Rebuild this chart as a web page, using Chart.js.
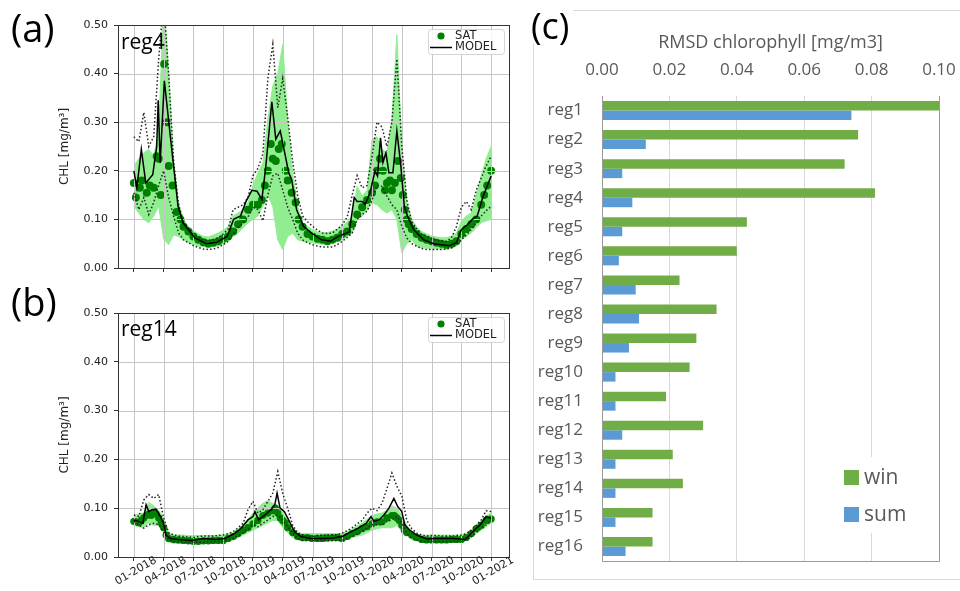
<!DOCTYPE html>
<html>
<head>
<meta charset="utf-8">
<script src="https://cdn.jsdelivr.net/npm/chart.js@4/dist/chart.umd.min.js"></script>
<style>
  body { margin: 0; background: #fff; width: 960px; height: 591px; overflow: hidden; position: relative; }
  canvas { position: absolute; }
  .lab { position: absolute; font-family: "Open Sans", sans-serif; line-height: 1; color: #000; white-space: nowrap; }
  #boxC { position: absolute; left: 533px; top: 10px; width: 440px; height: 568px; border: 1px solid #d9d9d9; }
</style>
</head>
<body>
<div id="boxC"></div>
<canvas id="chartA" style="left:0;top:0" width="530" height="290"></canvas>
<canvas id="chartB" style="left:0;top:290px" width="530" height="301"></canvas>
<canvas id="chartC" style="left:533px;top:10px" width="427" height="570"></canvas>
<div class="lab" style="left:11px;top:8px;font-size:38px">(a)</div>
<div class="lab" style="left:11px;top:282px;font-size:38px">(b)</div>
<div class="lab" style="left:531px;top:8px;font-size:36px;background:#fff;padding-right:4px">(c)</div>
<div class="lab" style="left:121px;top:31px;font-size:21px">reg4</div>
<div class="lab" style="left:121px;top:318px;font-size:21px">reg14</div>
<script>
// time axis in months since 01-2018
var tickMonths = [0, 3, 6, 9, 12, 15, 18, 21, 24, 27, 30, 33, 36];
var tickLabels = ['01-2018', '04-2018', '07-2018', '10-2018', '01-2019', '04-2019', '07-2019',
  '10-2019', '01-2020', '04-2020', '07-2020', '10-2020', '01-2021'];

// half-month grid used by the ensemble band and the dotted envelopes
var gridMonths = [0, 0.5, 1, 1.5, 2, 2.5, 3, 3.5, 4, 4.5, 5, 5.5, 6, 6.5, 7, 7.5, 8, 8.5, 9, 9.5, 10, 10.5, 11, 11.5, 12,
  12.5, 13, 13.5, 14, 14.5, 15, 15.5, 16, 16.5, 17, 17.5, 18, 18.5, 19, 19.5, 20, 20.5, 21, 21.5, 22, 22.5, 23, 23.5, 24,
  24.5, 25, 25.5, 26, 26.5, 27, 27.5, 28, 28.5, 29, 29.5, 30, 30.5, 31, 31.5, 32, 32.5, 33, 33.5, 34, 34.5, 35, 35.5, 36];

// ---- reg4 ----
var reg4BandHi = [0.21, 0.225, 0.237, 0.244, 0.23, 0.28, 0.55, 0.41, 0.22, 0.134, 0.1, 0.085, 0.076, 0.07, 0.065, 0.064, 0.068, 0.072, 0.078, 0.085, 0.107, 0.113, 0.12, 0.135, 0.17,
  0.196, 0.216, 0.306, 0.375, 0.40, 0.46, 0.306, 0.196, 0.127, 0.093, 0.085, 0.079, 0.075, 0.072, 0.073, 0.076, 0.08, 0.086, 0.095, 0.107, 0.168, 0.148, 0.16, 0.265,
  0.27, 0.244, 0.237, 0.306, 0.48, 0.25, 0.135, 0.1, 0.085, 0.075, 0.07, 0.066, 0.064, 0.062, 0.062, 0.066, 0.072, 0.096, 0.107, 0.113, 0.15, 0.19, 0.225, 0.25];
var reg4BandLo = [0.127, 0.113, 0.1, 0.093, 0.107, 0.127, 0.06, 0.048, 0.068, 0.065, 0.058, 0.052, 0.048, 0.045, 0.044, 0.043, 0.044, 0.045, 0.05, 0.055, 0.065, 0.072, 0.082, 0.093, 0.1,
  0.107, 0.127, 0.148, 0.127, 0.058, 0.038, 0.065, 0.072, 0.058, 0.055, 0.053, 0.052, 0.05, 0.049, 0.05, 0.052, 0.055, 0.058, 0.065, 0.072, 0.1, 0.107, 0.12, 0.134,
  0.13, 0.12, 0.113, 0.12, 0.1, 0.031, 0.05, 0.058, 0.045, 0.042, 0.041, 0.04, 0.039, 0.039, 0.039, 0.041, 0.045, 0.058, 0.065, 0.072, 0.083, 0.093, 0.097, 0.1];
var reg4DotHi = [0.27, 0.26, 0.32, 0.25, 0.27, 0.43, 0.55, 0.40, 0.22, 0.13, 0.095, 0.082, 0.07, 0.063, 0.058, 0.057, 0.058, 0.062, 0.07, 0.08, 0.12, 0.125, 0.13, 0.145, 0.19,
  0.205, 0.235, 0.39, 0.46, 0.33, 0.39, 0.31, 0.22, 0.15, 0.107, 0.095, 0.086, 0.078, 0.072, 0.071, 0.072, 0.08, 0.089, 0.105, 0.15, 0.19, 0.165, 0.17, 0.23,
  0.30, 0.29, 0.25, 0.30, 0.43, 0.25, 0.14, 0.095, 0.08, 0.07, 0.066, 0.06, 0.057, 0.055, 0.055, 0.062, 0.085, 0.125, 0.137, 0.12, 0.16, 0.185, 0.21, 0.23];
var reg4DotLo = [0.155, 0.12, 0.145, 0.11, 0.135, 0.17, 0.2, 0.145, 0.107, 0.072, 0.058, 0.052, 0.046, 0.042, 0.039, 0.038, 0.039, 0.042, 0.048, 0.055, 0.07, 0.083, 0.093, 0.105, 0.125,
  0.12, 0.097, 0.15, 0.19, 0.195, 0.16, 0.125, 0.1, 0.072, 0.058, 0.052, 0.048, 0.045, 0.043, 0.043, 0.043, 0.048, 0.055, 0.063, 0.072, 0.1, 0.11, 0.117, 0.14,
  0.17, 0.168, 0.148, 0.13, 0.12, 0.086, 0.062, 0.05, 0.045, 0.04, 0.038, 0.038, 0.038, 0.038, 0.039, 0.041, 0.048, 0.058, 0.068, 0.079, 0.093, 0.107, 0.118, 0.127];
var reg4Model = [[0, 0.20], [0.3, 0.165], [0.75, 0.244], [1.2, 0.175], [1.9, 0.192], [2.3, 0.25], [2.45, 0.345], [2.65, 0.216],
  [3.07, 0.385], [3.6, 0.285], [4.0, 0.21], [4.45, 0.127], [4.95, 0.093], [5.5, 0.079], [6.15, 0.062], [7.3, 0.05],
  [8.35, 0.053], [9.4, 0.065], [10.05, 0.10], [10.75, 0.107], [11.3, 0.137], [11.9, 0.16], [12.4, 0.158], [12.9, 0.141],
  [13.3, 0.21], [13.9, 0.342], [14.3, 0.265], [14.75, 0.282], [15.2, 0.237], [15.6, 0.196], [15.9, 0.182], [16.4, 0.12],
  [17.1, 0.086], [17.9, 0.072], [18.9, 0.058], [19.8, 0.055], [20.6, 0.065], [21.7, 0.074], [22.2, 0.145], [22.5, 0.137],
  [23.0, 0.137], [23.3, 0.131], [23.8, 0.155], [24.3, 0.2], [24.55, 0.189], [24.85, 0.268], [25.1, 0.217], [25.4, 0.237],
  [25.7, 0.196], [26.1, 0.196], [26.5, 0.282], [26.9, 0.21], [27.25, 0.127], [27.6, 0.105], [28.2, 0.079], [29.2, 0.058],
  [30.2, 0.05], [31.8, 0.046], [32.5, 0.052], [33.0, 0.079], [33.6, 0.089], [34.1, 0.1], [34.6, 0.107], [35.2, 0.148], [36.0, 0.189]];
var reg4Sat = [[0, 0.175], [0.2, 0.145], [0.6, 0.165], [0.8, 0.18], [1.3, 0.155], [1.6, 0.17], [2.0, 0.165], [2.3, 0.23],
  [2.5, 0.225], [2.7, 0.15], [3.05, 0.42], [3.3, 0.30], [3.5, 0.21], [3.9, 0.17], [4.3, 0.115], [4.7, 0.10], [5.0, 0.085],
  [5.5, 0.075], [6.0, 0.065], [6.5, 0.058], [7.0, 0.053], [7.5, 0.05], [8.0, 0.052], [8.5, 0.055], [9.0, 0.06], [9.5, 0.065],
  [10.0, 0.075], [10.5, 0.09], [11.0, 0.10], [11.5, 0.12], [12.0, 0.13], [12.5, 0.13], [12.9, 0.14], [13.2, 0.17], [13.5, 0.20],
  [13.8, 0.255], [14.0, 0.225], [14.3, 0.22], [14.6, 0.245], [14.9, 0.255], [15.3, 0.20], [15.5, 0.18], [15.9, 0.155],
  [16.3, 0.135], [16.6, 0.10], [17.0, 0.085], [17.5, 0.07], [18.0, 0.065], [18.5, 0.06], [19.0, 0.058], [19.5, 0.055],
  [20.0, 0.058], [20.5, 0.062], [21.0, 0.07], [21.5, 0.075], [22.0, 0.09], [22.5, 0.11], [23.0, 0.125], [23.5, 0.14],
  [24.0, 0.155], [24.3, 0.17], [24.5, 0.20], [24.8, 0.225], [25.1, 0.20], [25.3, 0.16], [25.5, 0.175], [25.8, 0.18],
  [26.0, 0.16], [26.3, 0.175], [26.6, 0.22], [26.9, 0.185], [27.1, 0.15], [27.3, 0.12], [27.5, 0.10], [27.7, 0.09],
  [28.0, 0.08], [28.5, 0.07], [29.0, 0.062], [29.5, 0.058], [30.0, 0.055], [30.5, 0.052], [31.0, 0.05], [31.5, 0.048],
  [32.0, 0.05], [32.5, 0.055], [33.0, 0.07], [33.5, 0.08], [34.0, 0.09], [34.5, 0.10], [35.0, 0.13], [35.3, 0.15],
  [35.6, 0.17], [36.0, 0.20]];

// ---- reg14 ----
var reg14BandHi = [0.085, 0.088, 0.09, 0.112, 0.105, 0.095, 0.08, 0.05, 0.045, 0.045, 0.045, 0.044, 0.044, 0.044, 0.044, 0.044, 0.044, 0.045, 0.045, 0.048, 0.05, 0.058, 0.065, 0.078, 0.09,
  0.1, 0.11, 0.115, 0.11, 0.105, 0.09, 0.075, 0.06, 0.05, 0.048, 0.048, 0.048, 0.048, 0.048, 0.048, 0.048, 0.048, 0.048, 0.052, 0.058, 0.064, 0.07, 0.078, 0.085,
  0.088, 0.09, 0.095, 0.105, 0.1, 0.085, 0.065, 0.05, 0.046, 0.045, 0.045, 0.045, 0.045, 0.045, 0.045, 0.045, 0.045, 0.045, 0.048, 0.055, 0.065, 0.075, 0.085, 0.09];
var reg14BandLo = [0.065, 0.062, 0.06, 0.07, 0.065, 0.065, 0.05, 0.03, 0.028, 0.028, 0.028, 0.028, 0.028, 0.028, 0.028, 0.028, 0.028, 0.028, 0.028, 0.032, 0.035, 0.04, 0.045, 0.05, 0.055,
  0.06, 0.065, 0.07, 0.075, 0.075, 0.06, 0.05, 0.04, 0.035, 0.033, 0.033, 0.033, 0.033, 0.033, 0.033, 0.033, 0.033, 0.033, 0.036, 0.04, 0.043, 0.045, 0.05, 0.055,
  0.058, 0.06, 0.06, 0.06, 0.065, 0.055, 0.045, 0.035, 0.033, 0.032, 0.032, 0.032, 0.032, 0.032, 0.032, 0.032, 0.032, 0.032, 0.034, 0.04, 0.048, 0.055, 0.062, 0.07];
var reg14DotHi = [0.086, 0.083, 0.117, 0.128, 0.12, 0.128, 0.08, 0.05, 0.045, 0.043, 0.042, 0.041, 0.04, 0.042, 0.043, 0.043, 0.043, 0.044, 0.045, 0.048, 0.052, 0.06, 0.069, 0.097, 0.114,
  0.09, 0.097, 0.114, 0.131, 0.175, 0.13, 0.1, 0.065, 0.05, 0.045, 0.043, 0.042, 0.044, 0.045, 0.045, 0.045, 0.046, 0.049, 0.054, 0.06, 0.068, 0.075, 0.09, 0.1,
  0.095, 0.11, 0.14, 0.172, 0.145, 0.125, 0.075, 0.058, 0.049, 0.045, 0.043, 0.044, 0.044, 0.043, 0.043, 0.043, 0.044, 0.045, 0.048, 0.055, 0.065, 0.076, 0.095, 0.093];
var reg14DotLo = [0.073, 0.066, 0.059, 0.066, 0.069, 0.066, 0.052, 0.035, 0.032, 0.031, 0.031, 0.03, 0.03, 0.03, 0.03, 0.031, 0.031, 0.032, 0.032, 0.035, 0.038, 0.043, 0.049, 0.057, 0.066,
  0.062, 0.069, 0.076, 0.083, 0.086, 0.076, 0.062, 0.049, 0.038, 0.034, 0.034, 0.034, 0.034, 0.034, 0.034, 0.034, 0.034, 0.034, 0.038, 0.042, 0.047, 0.052, 0.059, 0.066,
  0.066, 0.066, 0.073, 0.076, 0.083, 0.069, 0.049, 0.038, 0.035, 0.032, 0.032, 0.032, 0.032, 0.032, 0.032, 0.032, 0.032, 0.032, 0.036, 0.042, 0.05, 0.059, 0.066, 0.073];
var reg14Model = [[0, 0.076], [0.5, 0.073], [0.9, 0.069], [1.23, 0.107], [1.5, 0.093], [1.83, 0.097], [2.23, 0.098], [2.67, 0.083],
  [3.0, 0.069], [3.23, 0.045], [3.67, 0.038], [4.5, 0.036], [5.8, 0.034], [7.0, 0.038], [8.2, 0.036], [9.2, 0.038],
  [10.2, 0.049], [10.8, 0.059], [11.5, 0.076], [12.0, 0.083], [12.2, 0.093], [12.57, 0.076], [13.2, 0.086], [13.83, 0.097],
  [14.2, 0.107], [14.43, 0.131], [14.73, 0.1], [15.17, 0.093], [15.67, 0.073], [16.17, 0.052], [16.8, 0.042], [17.8, 0.038],
  [19.0, 0.038], [20.0, 0.039], [21.0, 0.042], [21.6, 0.049], [22.6, 0.059], [23.4, 0.069], [23.9, 0.083], [24.2, 0.073],
  [24.7, 0.076], [25.2, 0.086], [25.7, 0.1], [26.2, 0.12], [26.6, 0.103], [27.0, 0.093], [27.3, 0.066], [27.8, 0.055],
  [28.5, 0.045], [29.5, 0.037], [30.4, 0.038], [32.1, 0.038], [33.4, 0.036], [34.0, 0.049], [34.9, 0.066], [35.5, 0.083], [36.0, 0.079]];
var reg14Sat = [[0, 0.073], [0.25, 0.072], [0.5, 0.07], [0.75, 0.075], [1.0, 0.08], [1.25, 0.085], [1.5, 0.088], [1.75, 0.085],
  [2.0, 0.09], [2.25, 0.088], [2.5, 0.08], [2.75, 0.07], [3.0, 0.06], [3.25, 0.045], [3.5, 0.038], [4.0, 0.036], [4.5, 0.035],
  [5.0, 0.034], [5.5, 0.033], [6.0, 0.032], [6.5, 0.032], [7.0, 0.033], [7.5, 0.033], [8.0, 0.034], [8.5, 0.034], [9.0, 0.034],
  [9.5, 0.038], [10.0, 0.042], [10.5, 0.048], [11.0, 0.055], [11.5, 0.06], [12.0, 0.068], [12.5, 0.075], [13.0, 0.085],
  [13.5, 0.09], [14.0, 0.095], [14.25, 0.1], [14.5, 0.09], [14.75, 0.08], [15.0, 0.075], [15.25, 0.07], [15.5, 0.06],
  [16.0, 0.05], [16.5, 0.042], [17.0, 0.04], [17.5, 0.04], [18.0, 0.038], [18.5, 0.038], [19.0, 0.038], [19.5, 0.039],
  [20.0, 0.04], [20.5, 0.04], [21.0, 0.038], [21.5, 0.042], [22.0, 0.048], [22.5, 0.052], [23.0, 0.058], [23.5, 0.062],
  [24.0, 0.068], [24.5, 0.072], [25.0, 0.072], [25.5, 0.08], [26.0, 0.085], [26.25, 0.085], [26.5, 0.08], [26.75, 0.075],
  [27.0, 0.065], [27.25, 0.055], [27.5, 0.05], [28.0, 0.045], [28.5, 0.04], [29.0, 0.036], [29.5, 0.035], [30.0, 0.035],
  [30.5, 0.035], [31.0, 0.035], [31.5, 0.035], [32.0, 0.036], [32.5, 0.036], [33.0, 0.036], [33.5, 0.04], [34.0, 0.048],
  [34.5, 0.058], [35.0, 0.065], [35.5, 0.075], [36.0, 0.078]];

// ---- RMSD per region ----
var regions = ['reg1', 'reg2', 'reg3', 'reg4', 'reg5', 'reg6', 'reg7', 'reg8', 'reg9', 'reg10', 'reg11', 'reg12', 'reg13', 'reg14', 'reg15', 'reg16'];
var winRmsd = [0.100, 0.076, 0.072, 0.081, 0.043, 0.040, 0.023, 0.034, 0.028, 0.026, 0.019, 0.030, 0.021, 0.024, 0.015, 0.015];
var sumRmsd = [0.074, 0.013, 0.006, 0.009, 0.006, 0.005, 0.010, 0.011, 0.008, 0.004, 0.004, 0.006, 0.004, 0.004, 0.004, 0.007];

var mplFont = '"DejaVu Sans", sans-serif';
var gridGrey = '#c6c6c6';

function onGrid(vals) {
  return gridMonths.map(function (m, i) { return { x: m, y: vals[i] }; });
}
function fromPairs(p) {
  return p.map(function (d) { return { x: d[0], y: d[1] }; });
}

// matplotlib draws the grid above the band and dots but under the lines
var gridAbove = {
  id: 'gridAbove',
  afterDatasetDraw: function (chart, args) {
    if (chart.data.datasets[args.index].label !== 'SAT') return;
    var ctx = chart.ctx, a = chart.chartArea, x = chart.scales.x, y = chart.scales.y;
    ctx.save();
    ctx.strokeStyle = gridGrey;
    ctx.lineWidth = 1;
    ctx.beginPath();
    x.ticks.forEach(function (t) {
      var px = Math.round(x.getPixelForValue(t.value)) + 0.5;
      ctx.moveTo(px, a.top); ctx.lineTo(px, a.bottom);
    });
    y.ticks.forEach(function (t) {
      var py = Math.round(y.getPixelForValue(t.value)) + 0.5;
      ctx.moveTo(a.left, py); ctx.lineTo(a.right, py);
    });
    ctx.stroke();
    ctx.restore();
  }
};

var frame = {
  id: 'frame',
  afterDraw: function (chart) {
    var ctx = chart.ctx, a = chart.chartArea;
    ctx.save();
    ctx.strokeStyle = '#333';
    ctx.lineWidth = 1;
    ctx.strokeRect(Math.round(a.left) + 0.5, Math.round(a.top) + 0.5, Math.round(a.right - a.left), Math.round(a.bottom - a.top));
    ctx.restore();
  }
};

var insideLegend = {
  id: 'insideLegend',
  afterDraw: function (chart) {
    var ctx = chart.ctx, a = chart.chartArea;
    var ds = chart.data.datasets;
    var sat = ds.find(function (d) { return d.label === 'SAT'; });
    var mod = ds.find(function (d) { return d.label === 'MODEL'; });
    var x0 = Math.round(a.right) - 81, y0 = Math.round(a.top) + 4;
    ctx.save();
    ctx.fillStyle = 'rgba(255,255,255,0.85)';
    ctx.strokeStyle = '#d4d4d4';
    ctx.lineWidth = 1;
    ctx.beginPath();
    ctx.roundRect(x0 + 0.5, y0 + 0.5, 76, 25, 3);
    ctx.fill();
    ctx.stroke();
    ctx.fillStyle = sat.pointBackgroundColor;
    ctx.beginPath();
    ctx.arc(x0 + 13, y0 + 7, 3.6, 0, 2 * Math.PI);
    ctx.fill();
    ctx.strokeStyle = mod.borderColor;
    ctx.lineWidth = 1.5;
    ctx.beginPath();
    ctx.moveTo(x0 + 2, y0 + 18.5);
    ctx.lineTo(x0 + 24, y0 + 18.5);
    ctx.stroke();
    ctx.fillStyle = '#222';
    ctx.font = '11.5px ' + mplFont;
    ctx.textBaseline = 'middle';
    ctx.fillText(sat.label, x0 + 27, y0 + 7);
    ctx.fillText(mod.label, x0 + 27, y0 + 18.5);
    ctx.restore();
  }
};

// rotated date labels centred under the ticks (matplotlib rotation=30, ha=center)
var dateLabels = {
  id: 'dateLabels',
  afterDraw: function (chart) {
    var ctx = chart.ctx, x = chart.scales.x, a = chart.chartArea;
    ctx.save();
    ctx.fillStyle = '#222';
    ctx.font = '11px ' + mplFont;
    ctx.textAlign = 'center';
    ctx.textBaseline = 'middle';
    tickMonths.forEach(function (m, i) {
      ctx.save();
      ctx.translate(x.getPixelForValue(m) + 2, a.bottom + 14);
      ctx.rotate(-Math.PI / 6);
      ctx.fillText(tickLabels[i], 0, 0);
      ctx.restore();
    });
    ctx.restore();
  }
};

function seriesChart(id, d) {
  return new Chart(document.getElementById(id), {
    type: 'scatter',
    data: {
      datasets: [
        { label: 'MODEL', data: fromPairs(d.model), showLine: true, borderColor: '#000', borderWidth: 1.5,
          pointRadius: 0, order: 0 },
        { label: 'max', data: onGrid(d.dotHi), showLine: true, borderColor: '#222', borderWidth: 1.5,
          borderDash: [1.5, 2.2], pointRadius: 0, order: 1 },
        { label: 'min', data: onGrid(d.dotLo), showLine: true, borderColor: '#222', borderWidth: 1.5,
          borderDash: [1.5, 2.2], pointRadius: 0, order: 1 },
        { label: 'SAT', data: fromPairs(d.sat), pointRadius: d.dot, pointBackgroundColor: '#008000',
          pointBorderWidth: 0, order: 2 },
        { label: 'bandLo', data: onGrid(d.bandLo), showLine: true, borderColor: '#90ee90', borderWidth: 1,
          pointRadius: 0, fill: false, order: 4 },
        { label: 'bandHi', data: onGrid(d.bandHi), showLine: true, borderColor: '#90ee90', borderWidth: 1,
          pointRadius: 0, fill: 4, backgroundColor: '#90ee90', order: 3 }
      ]
    },
    options: {
      responsive: false,
      animation: false,
      layout: { padding: { top: d.top, right: 21, bottom: 0, left: 58 } },
      plugins: { legend: { display: false }, tooltip: { enabled: false } },
      scales: {
        x: {
          type: 'linear', min: -1.6, max: 37.8,
          afterBuildTicks: function (s) { s.ticks = tickMonths.map(function (v) { return { value: v }; }); },
          afterFit: function (s) { s.height = d.xh; },
          ticks: { display: false },
          grid: { drawOnChartArea: false, tickLength: 4, tickColor: '#333' },
          border: { display: false }
        },
        y: {
          min: 0, max: 0.5,
          afterFit: function (s) { s.width = 60; },
          ticks: { stepSize: 0.1, padding: 6, color: '#222', font: { family: mplFont, size: 11 },
            callback: function (v) { return v.toFixed(2); } },
          title: { display: true, text: 'CHL [mg/m³]', color: '#222', padding: 0, font: { family: mplFont, size: 12 } },
          grid: { drawOnChartArea: false, tickLength: 4, tickColor: '#333' },
          border: { display: false }
        }
      }
    },
    plugins: d.labels ? [gridAbove, frame, insideLegend, dateLabels] : [gridAbove, frame, insideLegend]
  });
}

seriesChart('chartA', { model: reg4Model, sat: reg4Sat, dotHi: reg4DotHi, dotLo: reg4DotLo,
  bandHi: reg4BandHi, bandLo: reg4BandLo, top: 25, xh: 22, dot: 4, labels: false });
seriesChart('chartB', { model: reg14Model, sat: reg14Sat, dotHi: reg14DotHi, dotLo: reg14DotLo,
  bandHi: reg14BandHi, bandLo: reg14BandLo, top: 23, xh: 34, dot: 3.6, labels: true });

// ---- panel (c) ----
var excelFont = '"Open Sans", sans-serif';

var barFrame = {
  id: 'barFrame',
  afterDraw: function (chart) {
    var ctx = chart.ctx, a = chart.chartArea;
    var l = Math.round(a.left) + 0.5, r = Math.round(a.right) + 0.5, b = Math.round(a.bottom) + 0.5, t = Math.round(a.top);
    ctx.save();
    ctx.strokeStyle = '#9a9a9a';
    ctx.lineWidth = 1;
    ctx.beginPath();
    ctx.moveTo(l, t); ctx.lineTo(l, b); ctx.lineTo(r, b); ctx.lineTo(r, t);
    ctx.stroke();
    ctx.restore();
  }
};

var boxLegend = {
  id: 'boxLegend',
  afterDraw: function (chart, args, o) {
    var ctx = chart.ctx;
    ctx.save();
    ctx.fillStyle = '#fff';
    ctx.fillRect(o.x - 9, o.y - 13, 80, 76);
    chart.data.datasets.forEach(function (ds, i) {
      var y = o.y + i * o.gap;
      ctx.fillStyle = ds.backgroundColor;
      ctx.fillRect(o.x, y, 15, 15);
      ctx.fillStyle = '#595959';
      ctx.font = '21px ' + excelFont;
      ctx.textBaseline = 'middle';
      ctx.fillText(ds.label, o.x + 20, y + 8);
    });
    ctx.restore();
  }
};

new Chart(document.getElementById('chartC'), {
  type: 'bar',
  data: {
    labels: regions,
    datasets: [
      { label: 'win', data: winRmsd, backgroundColor: '#70ad47', categoryPercentage: 0.654, barPercentage: 1 },
      { label: 'sum', data: sumRmsd, backgroundColor: '#5b9bd5', categoryPercentage: 0.654, barPercentage: 1 }
    ]
  },
  options: {
    indexAxis: 'y',
    responsive: false,
    animation: false,
    layout: { padding: { top: 0, right: 21, bottom: 19, left: 0 } },
    plugins: {
      legend: { display: false },
      tooltip: { enabled: false },
      boxLegend: { x: 311, y: 460, gap: 37 }
    },
    scales: {
      x: {
        position: 'top', min: 0, max: 0.1,
        afterFit: function (s) { s.height = 86; s.paddingLeft = 0; s.paddingRight = 0; },
        ticks: { stepSize: 0.02, padding: 16, color: '#595959', font: { family: excelFont, size: 17 },
          callback: function (v) { return v.toFixed(2); } },
        title: { display: true, text: 'RMSD chlorophyll [mg/m3]', color: '#595959',
          padding: { top: 22, bottom: 0 }, font: { family: excelFont, size: 18 } },
        grid: { color: '#d9d9d9', drawTicks: false },
        border: { display: false }
      },
      y: {
        afterFit: function (s) { s.width = 69; s.paddingTop = 0; s.paddingBottom = 0; },
        ticks: { padding: 19, color: '#595959', font: { family: excelFont, size: 17 } },
        grid: { display: false, drawTicks: false },
        border: { display: false }
      }
    }
  },
  plugins: [barFrame, boxLegend]
});
</script>
</body>
</html>
